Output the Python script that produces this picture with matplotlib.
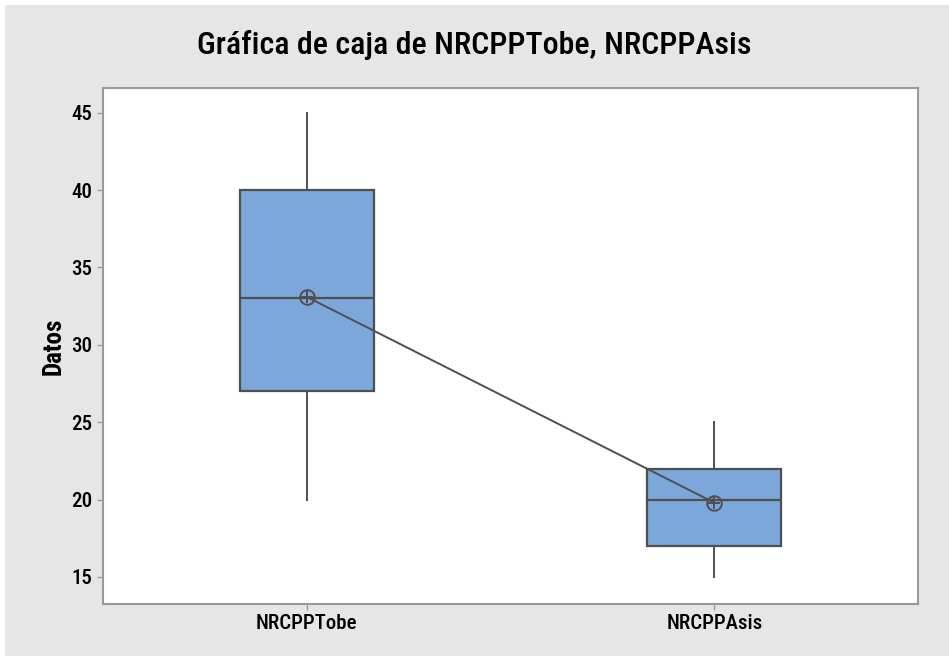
import matplotlib.pyplot as plt
from matplotlib.patches import Rectangle

categories = ["NRCPPTobe", "NRCPPAsis"]
whisker_low = [20, 15]
q1 = [27, 17]
medians = [33, 20]
q3 = [40, 22]
whisker_high = [45, 25]
means = [33.1, 19.8]
yticks = [15, 20, 25, 30, 35, 40, 45]

BOX_FILL = "#7BA7DB"
EDGE = "#4F4F4F"
BG = "#E6E6E6"
FRAME = "#9A9A9A"
FONT = ["Roboto Condensed", "DejaVu Sans"]

plt.rcParams["font.family"] = FONT

fig = plt.figure(figsize=(9.49, 6.56), dpi=100, facecolor="white")
fig.patches.append(Rectangle((5 / 949, 0), 1, 1 - 5 / 656, transform=fig.transFigure,
                             facecolor=BG, edgecolor="none", zorder=-1))

ax = fig.add_axes([103 / 949, 1 - 604 / 656, 815 / 949, 516 / 656])
ax.set_facecolor("white")

stats = []
for i, name in enumerate(categories):
    stats.append({
        "label": name,
        "whislo": whisker_low[i],
        "q1": q1[i],
        "med": medians[i],
        "q3": q3[i],
        "whishi": whisker_high[i],
        "fliers": [],
    })

positions = list(range(1, len(categories) + 1))
ax.bxp(stats, positions=positions, widths=0.33, patch_artist=True, showcaps=False,
       boxprops=dict(facecolor=BOX_FILL, edgecolor=EDGE, linewidth=1.6),
       medianprops=dict(color=EDGE, linewidth=1.6),
       whiskerprops=dict(color=EDGE, linewidth=1.4))

# mean connect line with circled-plus symbols
ax.plot(positions, means, color=EDGE, linewidth=1.4, zorder=4)
ax.plot(positions, means, linestyle="none", marker="o", markersize=10.5,
        markerfacecolor="none", markeredgecolor=EDGE, markeredgewidth=1.4, zorder=5)
ax.plot(positions, means, linestyle="none", marker="+", markersize=8,
        markeredgecolor=EDGE, markeredgewidth=1.4, zorder=5)

ax.set_xlim(0.5, 2.5)
ax.set_ylim(13.25, 46.6)
ax.set_yticks(yticks)
ax.set_yticklabels([str(t) for t in yticks], fontsize=15, fontweight="medium")
ax.set_xticks(positions)
ax.set_xticklabels(categories, fontsize=15, fontweight="medium")
ax.tick_params(axis="both", colors=FRAME, labelcolor="black", length=4, width=1)
ax.tick_params(axis="y", pad=4)

for side in ["top", "right", "left", "bottom"]:
    ax.spines[side].set_color(FRAME)
    ax.spines[side].set_linewidth(1.5)

ax.set_ylabel("Datos", fontsize=18, fontweight="bold", labelpad=4)
fig.text(0.5, 1 - 45 / 656, "Gráfica de caja de NRCPPTobe, NRCPPAsis", ha="center", va="center",
         fontsize=23, fontweight="medium")

fig.savefig("out.png", dpi=100, facecolor=fig.get_facecolor())
